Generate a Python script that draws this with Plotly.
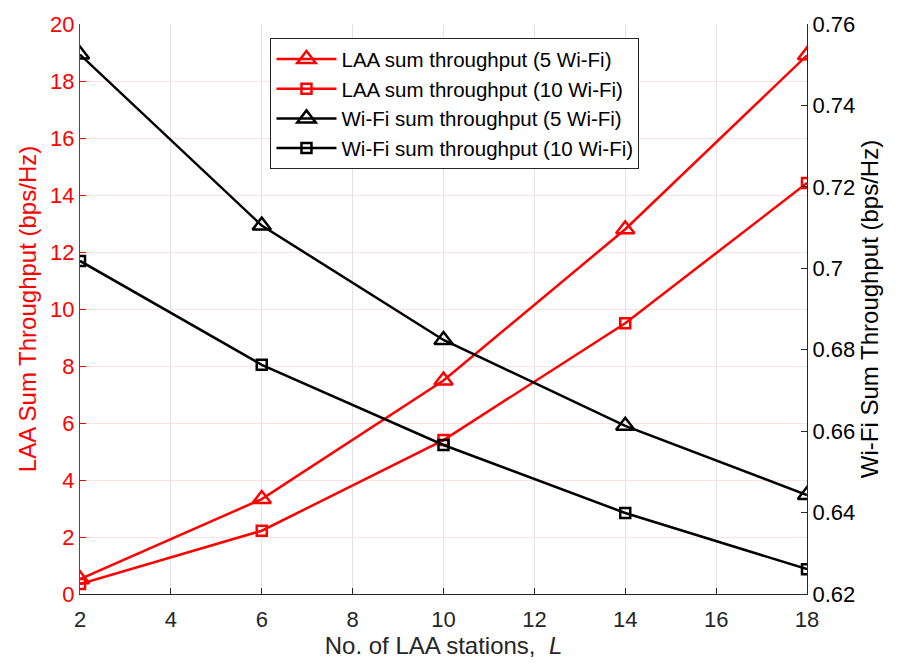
import plotly.graph_objects as go

x_stations = [2, 6, 10, 14, 18]
laa_5wifi = [0.52, 3.33, 7.49, 12.8, 18.9]
laa_10wifi = [0.35, 2.22, 5.4, 9.5, 14.42]
wifi_5wifi = [0.7525, 0.7105, 0.6824, 0.6613, 0.6443]
wifi_10wifi = [0.7018, 0.6763, 0.6566, 0.6399, 0.6261]

x_ticks = [2, 4, 6, 8, 10, 12, 14, 16, 18]
left_ticks = list(range(0, 21, 2))
right_ticks = [0.62, 0.64, 0.66, 0.68, 0.70, 0.72, 0.74, 0.76]
right_tick_text = ["0.62", "0.64", "0.66", "0.68", "0.7", "0.72", "0.74", "0.76"]

RED = "#ff0000"
BLK = "#000000"
FONT = "Liberation Sans, Arial, sans-serif"

fig = go.Figure()
fig.add_trace(go.Scatter(x=x_stations, y=laa_5wifi, mode="lines+markers",
                         name="LAA sum throughput (5 Wi-Fi)",
                         line=dict(color=RED, width=2.5),
                         marker=dict(symbol="triangle-up-open", size=16, color=RED, line=dict(width=2.5, color=RED)),
                         yaxis="y"))
fig.add_trace(go.Scatter(x=x_stations, y=laa_10wifi, mode="lines+markers",
                         name="LAA sum throughput (10 Wi-Fi)",
                         line=dict(color=RED, width=2.5),
                         marker=dict(symbol="square-open", size=10, color=RED, line=dict(width=2.5, color=RED)),
                         yaxis="y"))
fig.add_trace(go.Scatter(x=x_stations, y=wifi_5wifi, mode="lines+markers",
                         name="Wi-Fi sum throughput (5 Wi-Fi)",
                         line=dict(color=BLK, width=2.5),
                         marker=dict(symbol="triangle-up-open", size=16, color=BLK, line=dict(width=2.5, color=BLK)),
                         yaxis="y2"))
fig.add_trace(go.Scatter(x=x_stations, y=wifi_10wifi, mode="lines+markers",
                         name="Wi-Fi sum throughput (10 Wi-Fi)",
                         line=dict(color=BLK, width=2.5),
                         marker=dict(symbol="square-open", size=10, color=BLK, line=dict(width=2.5, color=BLK)),
                         yaxis="y2"))

fig.update_layout(
    width=900, height=669,
    margin=dict(l=80, r=93, t=16, b=75),
    paper_bgcolor="white", plot_bgcolor="white",
    font=dict(family=FONT, size=22, color="#262626"),
    showlegend=True,
    legend=dict(x=0.262, y=0.975, xanchor="left", yanchor="top",
                bgcolor="white", bordercolor="#262626", borderwidth=1,
                font=dict(family=FONT, size=20.5, color="#000000"),
                tracegroupgap=0, itemwidth=60),
    xaxis=dict(range=[2, 18], tickvals=x_ticks, ticks="inside", ticklen=6,
               tickcolor="#262626", showline=True, linecolor="#262626", linewidth=1,
               showgrid=True, gridcolor="#e3e3e3", gridwidth=1, zeroline=False,
               ticklabelstandoff=6,
               tickfont=dict(size=22, color="#262626"),
               title=dict(text="No. of LAA stations,  <i>L</i>", font=dict(size=24, color="#262626"), standoff=4)),
    yaxis=dict(range=[0, 20], tickvals=left_ticks, ticks="inside", ticklen=6,
               tickcolor=RED, showline=True, linecolor=RED, linewidth=1,
               showgrid=True, gridcolor="#ffe0e0", gridwidth=1, zeroline=False,
               tickfont=dict(size=22, color=RED),
               title=dict(text="LAA Sum Throughput (bps/Hz)", font=dict(size=24, color=RED), standoff=6)),
    yaxis2=dict(range=[0.62, 0.76], tickvals=right_ticks, ticktext=right_tick_text,
                overlaying="y", side="right", ticks="inside", ticklen=6,
                tickcolor="#262626", showline=True, linecolor="#262626", linewidth=1,
                showgrid=False, zeroline=False,
                tickfont=dict(size=22, color="#000000"),
                title=dict(text="Wi-Fi Sum Throughput (bps/Hz)", font=dict(size=24, color="#000000"), standoff=6)),
)

fig.write_html("out.html")
